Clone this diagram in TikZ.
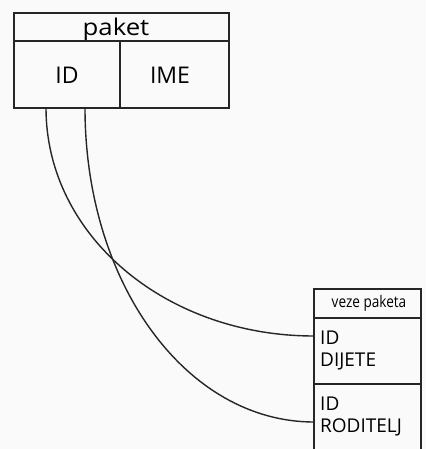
\documentclass[tikz,border=0pt]{standalone}
\usepackage{fontspec}
\setmainfont{Open Sans}
\begin{document}
\begin{tikzpicture}[x=1pt,y=-1pt,
  cell/.style={draw=black!85,line width=1.8pt,rectangle,inner sep=0pt},
  lbl/.style={inner sep=0pt,font=\fontsize{23}{23}\selectfont},
  rl/.style={inner sep=0pt,align=left,anchor=west,font=\fontsize{19}{22}\selectfont},
  link/.style={draw=black!85,line width=1.4pt}]
\useasboundingbox[fill=black!2] (0,0) rectangle (426,449);
% top table
\node[cell,minimum width=215pt,minimum height=28pt] (paket) at (121.5,27) {};
\node[lbl,xscale=1.12,anchor=base] at (116,36) {paket};
\node[cell,minimum width=106pt,minimum height=67pt] (id) at (67,74.5) {};
\node[lbl] at (67,75) {ID};
\node[cell,minimum width=109pt,minimum height=67pt] (ime) at (174.5,74.5) {};
\node[lbl] at (170,75) {IME};
% right table
\node[cell,minimum width=107pt,minimum height=29pt] (veze) at (367.5,303.5) {};
\node[inner sep=0pt,font=\fontsize{16}{16}\selectfont,xscale=0.85] at (369,303) {veze paketa};
\node[cell,minimum width=107pt,minimum height=66pt] (dijete) at (367.5,351) {};
\node[rl] (tdijete) at (320,351) {ID\\DIJETE};
\node[cell,minimum width=107pt,minimum height=80pt] (roditelj) at (367.5,424) {};
\node[rl] (troditelj) at (320,416) {ID\\RODITELJ};
% connectors
\coordinate (s1) at (46,108);
\coordinate (s2) at (85,108);
\coordinate (e1) at (314,336);
\coordinate (e2) at (314,422);
\draw[link] (s1) .. controls (46,235) and (165,336) .. (e1);
\draw[link] (s2) .. controls (85,283) and (186,422) .. (e2);
\end{tikzpicture}
\end{document}
